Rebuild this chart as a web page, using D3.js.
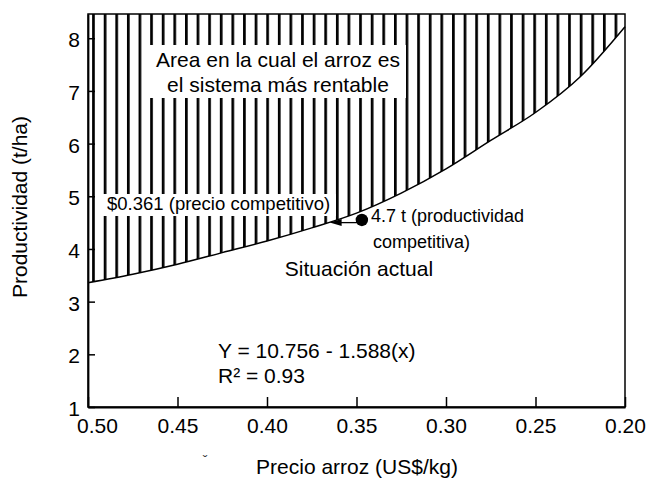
<!DOCTYPE html>
<html>
<head>
<meta charset="utf-8">
<script src="https://cdn.jsdelivr.net/npm/d3@7"></script>
<style>
  html, body { margin: 0; padding: 0; background: #fff; }
  svg { display: block; font-family: "Liberation Sans", Arial, sans-serif; }
</style>
</head>
<body>
<svg id="chart" width="646" height="478"></svg>
<script>
// ---- data ----
const priceTicks = [0.50, 0.45, 0.40, 0.35, 0.30, 0.25, 0.20];
const yieldTicks = [1, 2, 3, 4, 5, 6, 7, 8];
const curvePrice = [0.500, 0.475, 0.450, 0.425, 0.400, 0.375, 0.350, 0.325, 0.300, 0.275, 0.250, 0.225, 0.200];
const curveYield = [3.36, 3.52, 3.71, 3.93, 4.15, 4.40, 4.68, 5.06, 5.52, 6.06, 6.59, 7.27, 8.22];
const markerPrice = [0.347];
const markerYield = [4.55];
const arrowTipPrice = [0.365];
const arrowYield = [4.50];
const xDomain = [0.50, 0.20];
const yDomain = [1, 8.46];
const xTitle = "Precio arroz (US$/kg)";
const yTitle = "Productividad (t/ha)";
const areaLines = ["Area en la cual el arroz es", "el sistema más rentable"];
const priceNote = "$0.361 (precio competitivo)";
const yieldNote = ["4.7 t (productividad", "competitiva)"];
const currentNote = "Situación actual";
const eqLines = ["Y = 10.756 - 1.588(x)", "R² = 0.93"];

// ---- layout ----
const W = 646, H = 478;
const m = { left: 88, top: 14, right: 21, bottom: 71 };
const pw = W - m.left - m.right, ph = H - m.top - m.bottom;

const svg = d3.select("#chart");
const x = d3.scaleLinear().domain(xDomain).range([0, pw]);
const y = d3.scaleLinear().domain(yDomain).range([ph, 0]);

const defs = svg.append("defs");
const pat = defs.append("pattern")
  .attr("id", "hatch").attr("patternUnits", "userSpaceOnUse")
  .attr("x", 97 - m.left + m.left).attr("y", 0)
  .attr("width", 11.61).attr("height", 20);
pat.append("rect").attr("x", 0).attr("y", 0).attr("width", 2.7).attr("height", 20).attr("fill", "#000");
defs.append("clipPath").attr("id", "plotclip").append("rect").attr("width", pw).attr("height", ph);

const g = svg.append("g").attr("transform", `translate(${m.left},${m.top})`);

const pts = curvePrice.map((p, i) => [p, curveYield[i]]);

// hatched area above curve
const area = d3.area()
  .x(d => x(d[0]))
  .y0(0)
  .y1(d => y(d[1]))
  .curve(d3.curveMonotoneX);
g.append("g").attr("clip-path", "url(#plotclip)")
  .append("path").datum(pts)
  .attr("d", area)
  .attr("fill", "url(#hatch)")
  .attr("transform", `translate(0,0)`);

// curve line
const line = d3.line().x(d => x(d[0])).y(d => y(d[1])).curve(d3.curveMonotoneX);
g.append("path").datum(pts).attr("d", line)
  .attr("fill", "none").attr("stroke", "#000").attr("stroke-width", 1.5);

// white boxes for texts
g.append("rect").attr("x", 150 - m.left).attr("y", 45 - m.top).attr("width", 256).attr("height", 53).attr("fill", "#fff");
g.append("rect").attr("x", 95 - m.left).attr("y", 194 - m.top).attr("width", 241).attr("height", 22).attr("fill", "#fff");

// frame
g.append("rect").attr("width", pw).attr("height", ph).attr("fill", "none")
  .attr("stroke", "#000").attr("stroke-width", 1.5);

// axes
const xAxis = d3.axisBottom(x).tickValues(priceTicks).tickSizeInner(-10).tickSizeOuter(0)
  .tickPadding(11).tickFormat(d3.format(".2f"));
const gx = g.append("g").attr("transform", `translate(0,${ph})`).call(xAxis);
gx.selectAll("text").attr("font-size", 21).attr("fill", "#000")
  .attr("font-family", '"Liberation Sans", Arial, sans-serif')
  .attr("dx", (d, i) => i === 0 ? 9 : 0);
gx.selectAll("line").attr("stroke", "#000").attr("stroke-width", 1.5);
gx.select(".domain").attr("stroke", "#000").attr("stroke-width", 1.8);

const yAxis = d3.axisLeft(y).tickValues(yieldTicks).tickSizeInner(-7).tickSizeOuter(0).tickPadding(8);
const gy = g.append("g").call(yAxis);
gy.selectAll("text").attr("font-size", 21).attr("fill", "#000")
  .attr("font-family", '"Liberation Sans", Arial, sans-serif')
  .attr("dy", "0.4em");
gy.selectAll("line").attr("stroke", "#000").attr("stroke-width", 1.5);
gy.select(".domain").attr("stroke", "#000").attr("stroke-width", 1.8);

// axis titles
svg.append("text").attr("transform", "translate(27,207) rotate(-90)")
  .attr("text-anchor", "middle").attr("font-size", 21).attr("fill", "#000").text(yTitle);
svg.append("text").attr("x", 357).attr("y", 474)
  .attr("text-anchor", "middle").attr("font-size", 21).attr("fill", "#000").text(xTitle);
svg.append("text").attr("x", 205).attr("y", 466)
  .attr("text-anchor", "middle").attr("font-size", 14).attr("fill", "#333").text("ˇ");

// area annotation
areaLines.forEach((t, i) => {
  svg.append("text").attr("x", 278).attr("y", 67 + i * 25)
    .attr("text-anchor", "middle").attr("font-size", 21).attr("fill", "#000").text(t);
});

// price note
svg.append("text").attr("x", 107).attr("y", 210).attr("font-size", 18.5).attr("fill", "#000").text(priceNote);

// arrow and marker
const ax0 = x(markerPrice[0]), ax1 = x(arrowTipPrice[0]), ay = y(arrowYield[0]);
g.append("line").attr("x1", ax0).attr("x2", ax1 + 8).attr("y1", ay).attr("y2", ay)
  .attr("stroke", "#000").attr("stroke-width", 1.3);
g.append("path")
  .attr("d", `M${ax1},${ay} L${ax1 + 12},${ay - 3.5} L${ax1 + 12},${ay + 3.5} Z`)
  .attr("fill", "#000");
g.selectAll("circle.mk").data(markerPrice).enter().append("circle")
  .attr("class", "mk")
  .attr("cx", d => x(d)).attr("cy", (d, i) => y(markerYield[i])).attr("r", 6.2).attr("fill", "#000");

yieldNote.forEach((t, i) => {
  svg.append("text").attr("x", 371 + i * 2).attr("y", 222 + i * 26)
    .attr("font-size", 18).attr("fill", "#000").text(t);
});

svg.append("text").attr("x", 359).attr("y", 276).attr("text-anchor", "middle")
  .attr("font-size", 21).attr("fill", "#000").text(currentNote);

eqLines.forEach((t, i) => {
  svg.append("text").attr("x", 218).attr("y", 358 + i * 25)
    .attr("font-size", 21).attr("fill", "#000").text(t);
});
</script>
</body>
</html>
